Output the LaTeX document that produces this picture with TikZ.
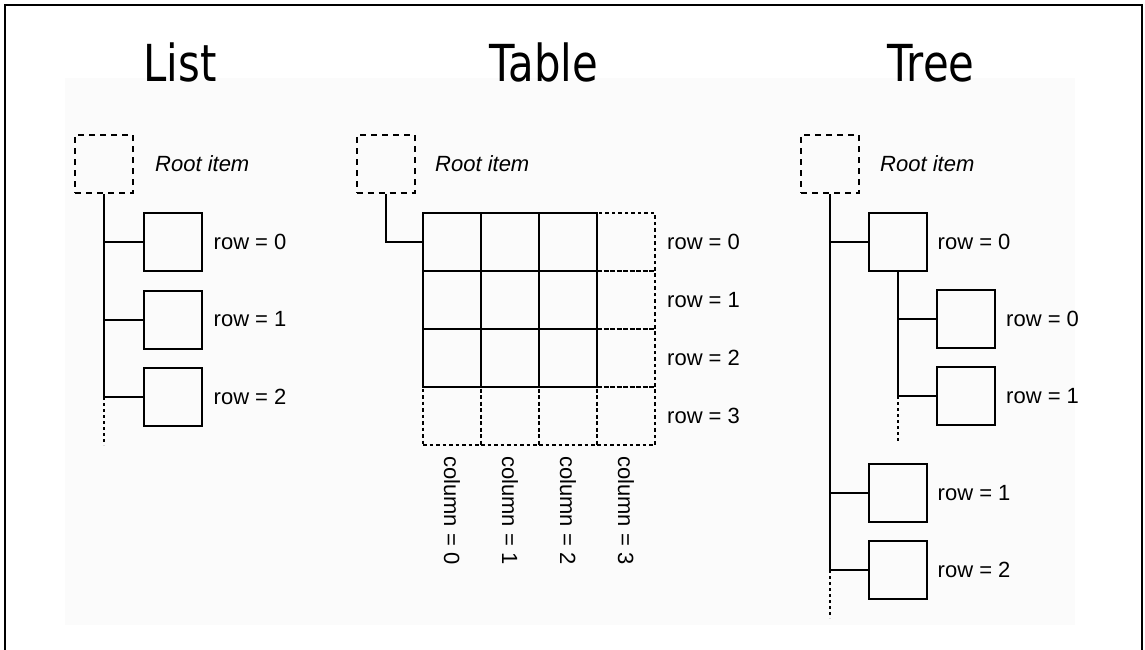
\documentclass[tikz,border=0pt]{standalone}
\usepackage{fontspec}
\setmainfont{Liberation Sans}
\newfontfamily\titlefont[FakeStretch=0.82]{DejaVu Sans}
\usetikzlibrary{positioning}

\tikzset{
  item/.style={draw, line width=2pt, minimum size=58pt, inner sep=0pt},
  rootbox/.style={item, dash pattern=on 6pt off 5pt},
  ghost/.style={item, dash pattern=on 3.5pt off 3pt},
  link/.style={line width=2pt},
  more/.style={line width=2pt, dash pattern=on 3pt off 3pt},
  lbl/.style={anchor=west, inner sep=0pt, font=\fontsize{22}{26}\selectfont},
  rootlbl/.style={lbl, font=\fontsize{22}{26}\selectfont\itshape},
  title/.style={anchor=base, font=\titlefont\fontsize{51}{60}\selectfont}
}

\begin{document}
\begin{tikzpicture}[x=1pt, y=-1pt]
\useasboundingbox (0,0) rectangle (1145,650);
\fill[black!1.5] (65,78) rectangle (1075,625);
\draw[line width=2pt] (5,650) -- (5,5) -- (1142,5) -- (1142,650);

% titles
\node[title] (list-title) at (180,82) {List};
\node[title] (table-title) at (544,82) {Table};
\node[title] (tree-title) at (931,82) {Tree};

% list
\node[rootbox] (list-root) at (104,164) {};
\node[rootlbl] (list-root-text) at (155,164) {Root item};
\foreach \r in {0,1,2} {
  \node[item] (list-\r) at (172.5,{242+77.5*\r}) {};
  \node[lbl, right=11pt of list-\r] (list-\r-text) {row = \r};
  \draw[link] (list-root.south) |- (list-\r);
}
\coordinate (list-end) at (104,445);
\draw[more] (list-root.south |- list-2.west) -- (list-end);

% table
\node[rootbox] (table-root) at (385.5,164) {};
\node[rootlbl] (table-root-text) at (435,164) {Root item};
\foreach \i in {0,1,2} {
  \node[ghost] (cell-\i-3) at (626,{242+58*\i}) {};
  \node[ghost] (cell-3-\i) at ({452+58*\i},416) {};
}
\node[ghost] (cell-3-3) at (626,416) {};
\foreach \i in {0,1,2}
  \foreach \j in {0,1,2}
    \node[item] (cell-\i-\j) at ({452+58*\j},{242+58*\i}) {};
\foreach \i in {0,...,3} {
  \node[lbl, right=11pt of cell-\i-3] (row-\i-text) {row = \i};
  \node[lbl, rotate=-90] (col-\i-text) at ([yshift=-10pt]cell-3-\i.south) {column = \i};
}
\draw[link] (table-root.south) |- (cell-0-0);

% tree
\node[rootbox] (tree-root) at (830,164) {};
\node[rootlbl] (tree-root-text) at (880,164) {Root item};
\node[item] (tree-0) at (897.5,242) {};
\node[item] (tree-0-0) at (966,319) {};
\node[item] (tree-0-1) at (966,396) {};
\node[item] (tree-1) at (897.5,493) {};
\node[item] (tree-2) at (897.5,570) {};
\node[lbl, right=10pt of tree-0] (tree-0-text) {row = 0};
\node[lbl, right=10pt of tree-0-0] (tree-0-0-text) {row = 0};
\node[lbl, right=10pt of tree-0-1] (tree-0-1-text) {row = 1};
\node[lbl, right=10pt of tree-1] (tree-1-text) {row = 1};
\node[lbl, right=10pt of tree-2] (tree-2-text) {row = 2};
\foreach \r in {0,1,2}
  \draw[link] (tree-root.south) |- (tree-\r);
\draw[link] (tree-0.south) |- (tree-0-0);
\draw[link] (tree-0.south) |- (tree-0-1);
\coordinate (tree-end) at (830,618);
\coordinate (tree-0-end) at (897.5,443);
\draw[more] (tree-root.south |- tree-2.west) -- (tree-end);
\draw[more] (tree-0.south |- tree-0-1.west) -- (tree-0-end);
\end{tikzpicture}
\end{document}
